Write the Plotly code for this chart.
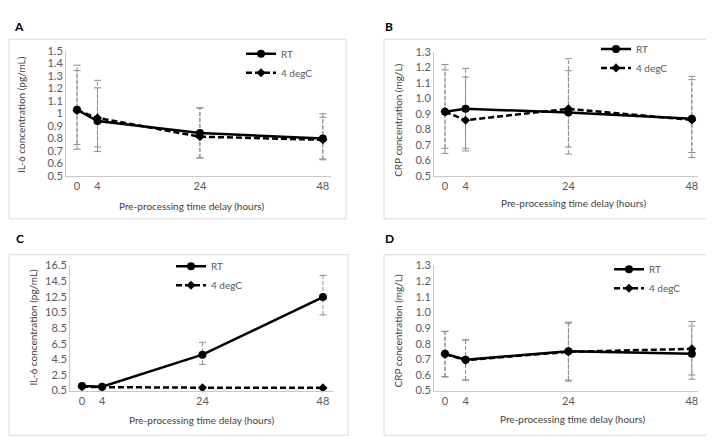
import plotly.graph_objects as go

hours = [0, 4, 24, 48]
tick_hours = [0, 4, 24, 48]

# Panel A: IL-6 (pg/mL)
a_rt = [1.03, 0.94, 0.845, 0.80]
a_rt_hi = [0.313, 0.325, 0.20, 0.198]
a_rt_lo = [0.277, 0.244, 0.20, 0.163]
a_4c = [1.025, 0.965, 0.815, 0.79]
a_4c_hi = [0.361, 0.24, 0.23, 0.18]
a_4c_lo = [0.31, 0.232, 0.17, 0.16]

# Panel B: CRP (mg/L)
b_rt = [0.915, 0.933, 0.91, 0.87]
b_rt_hi = [0.269, 0.261, 0.269, 0.251]
b_rt_lo = [0.236, 0.271, 0.2225, 0.218]
b_4c = [0.915, 0.86, 0.933, 0.862]
b_4c_hi = [0.304, 0.2775, 0.323, 0.28]
b_4c_lo = [0.269, 0.181, 0.291, 0.242]

# Panel C: IL-6 (pg/mL)
c_rt = [1.08, 1.0, 5.09, 12.45]
c_rt_hi = [0.1, 0.1, 1.58, 2.77]
c_rt_lo = [0.1, 0.1, 1.24, 2.28]
c_4c = [1.0, 0.95, 0.87, 0.85]
c_4c_hi = [0.08, 0.08, 0.08, 0.08]
c_4c_lo = [0.08, 0.08, 0.08, 0.08]

# Panel D: CRP (mg/L)
d_rt = [0.736, 0.697, 0.752, 0.736]
d_rt_hi = [0.143, 0.128, 0.186, 0.177]
d_rt_lo = [0.147, 0.129, 0.184, 0.136]
d_4c = [0.733, 0.695, 0.748, 0.767]
d_4c_hi = [0.145, 0.128, 0.182, 0.175]
d_4c_lo = [0.145, 0.128, 0.188, 0.194]

series_names = ["RT", "4 degC"]
xtitle = "Pre-processing time delay (hours)"
ytitle_il6 = "IL-6 concentration (pg/mL)"
ytitle_crp = "CRP concentration (mg/L)"

W, H = 714, 442


def px(x):
    return x / W


def py(y):
    return 1 - y / H


FONT = "Lato"
TICK_COLOR = "#595959"
TITLE_COLOR = "#404040"
ERR_COLOR = "#8c8c8c"
AXIS_COLOR = "#c8c8c8"

panels = [
    dict(letter="A", n=1, data=[(a_rt, a_rt_hi, a_rt_lo), (a_4c, a_4c_hi, a_4c_lo)],
         xdom=(58, 323), ydom=(166, 37), xr=(-2.15, 49.6), yr=(0.5, 1.5),
         tick0=0.5, dtick=0.1, fmt="", ytitle=ytitle_il6,
         letter_pos=(11, 12), xt_pos=(184, 197), yt_pos=(13, 103),
         legend_pos=(233, 25), box=(1, 25, 338, 210)),
    dict(letter="B", n=2, data=[(b_rt, b_rt_hi, b_rt_lo), (b_4c, b_4c_hi, b_4c_lo)],
         xdom=(426, 690), ydom=(166, 38), xr=(-2.14, 49.2), yr=(0.5, 1.3),
         tick0=0.5, dtick=0.1, fmt=".1f", ytitle=ytitle_crp,
         letter_pos=(381, 12), xt_pos=(565, 194), yt_pos=(390, 108),
         legend_pos=(588, 20), box=(376, 25, 711, 210)),
    dict(letter="C", n=3, data=[(c_rt, c_rt_hi, c_rt_lo), (c_4c, c_4c_hi, c_4c_lo)],
         xdom=(62, 325), ydom=(387, 258), xr=(-2.39, 50.0), yr=(0.5, 16.5),
         tick0=0.5, dtick=2, fmt="", ytitle=ytitle_il6,
         letter_pos=(12, 230), xt_pos=(193, 417), yt_pos=(25, 322),
         legend_pos=(163, 244), box=(1, 247, 340, 433)),
    dict(letter="D", n=4, data=[(d_rt, d_rt_hi, d_rt_lo), (d_4c, d_4c_hi, d_4c_lo)],
         xdom=(426, 690), ydom=(387, 258), xr=(-2.14, 49.2), yr=(0.5, 1.3),
         tick0=0.5, dtick=0.1, fmt=".1f", ytitle=ytitle_crp,
         letter_pos=(381, 230), xt_pos=(564, 416), yt_pos=(390, 325),
         legend_pos=(601, 247), box=(376, 247, 705, 433)),
]

fig = go.Figure()
annotations = []
shapes = []
layout_extra = {}

for p in panels:
    n = p["n"]
    xa = "x" if n == 1 else f"x{n}"
    ya = "y" if n == 1 else f"y{n}"
    leg = "legend" if n == 1 else f"legend{n}"

    # error bars (behind lines)
    for (vals, hi, lo) in p["data"]:
        ex, ey = [], []
        for x, v, h, l in zip(hours, vals, hi, lo):
            ex += [x, x, None]
            ey += [v - l, v + h, None]
        fig.add_trace(go.Scatter(x=ex, y=ey, xaxis=xa, yaxis=ya, mode="lines",
                                 line=dict(color=ERR_COLOR, width=1, dash="4px,2px"),
                                 showlegend=False, hoverinfo="skip", cliponaxis=False))
        fig.add_trace(go.Scatter(x=hours + hours,
                                 y=[v + h for v, h in zip(vals, hi)] + [v - l for v, l in zip(vals, lo)],
                                 xaxis=xa, yaxis=ya, mode="markers",
                                 marker=dict(symbol="line-ew", size=5,
                                             line=dict(color=ERR_COLOR, width=1)),
                                 showlegend=False, hoverinfo="skip", cliponaxis=False))

    styles = [
        dict(line=dict(color="black", width=2.5, dash="solid"),
             marker=dict(symbol="circle", size=8, color="black")),
        dict(line=dict(color="black", width=2.5, dash="6px,3px"),
             marker=dict(symbol="diamond", size=7, color="black")),
    ]
    for (vals, hi, lo), name, st in zip(p["data"], series_names, styles):
        fig.add_trace(go.Scatter(x=hours, y=vals, name=name, xaxis=xa, yaxis=ya,
                                 mode="lines+markers", line=st["line"], marker=st["marker"],
                                 legend=leg, cliponaxis=False))

    axis_common = dict(showgrid=False, zeroline=False, showline=True,
                       linecolor=AXIS_COLOR, linewidth=1, ticks="",
                       tickfont=dict(family=FONT, size=11, color=TICK_COLOR))
    layout_extra["xaxis" if n == 1 else f"xaxis{n}"] = dict(
        axis_common, domain=[px(p["xdom"][0]), px(p["xdom"][1])], range=list(p["xr"]),
        anchor=ya, tickmode="array", tickvals=tick_hours,
        ticktext=[str(t) for t in tick_hours])
    layout_extra["yaxis" if n == 1 else f"yaxis{n}"] = dict(
        axis_common, domain=[py(p["ydom"][0]), py(p["ydom"][1])], range=list(p["yr"]),
        anchor=xa, tick0=p["tick0"], dtick=p["dtick"], tickformat=p["fmt"])
    layout_extra[leg] = dict(x=px(p["legend_pos"][0]), y=py(p["legend_pos"][1]),
                             xanchor="left", yanchor="top", bgcolor="rgba(0,0,0,0)",
                             font=dict(family=FONT, size=10, color=TICK_COLOR),
                             tracegroupgap=0, itemwidth=30)

    annotations.append(dict(text=f"<b>{p['letter']}</b>", x=px(p["letter_pos"][0]),
                            y=py(p["letter_pos"][1]), xref="paper", yref="paper",
                            showarrow=False, xanchor="center", yanchor="middle",
                            font=dict(family=FONT, size=12, color="black")))
    annotations.append(dict(text=xtitle, x=px(p["xt_pos"][0]), y=py(p["xt_pos"][1]),
                            xref="paper", yref="paper", showarrow=False,
                            xanchor="center", yanchor="middle",
                            font=dict(family=FONT, size=10, color=TITLE_COLOR)))
    annotations.append(dict(text=p["ytitle"], x=px(p["yt_pos"][0]), y=py(p["yt_pos"][1]),
                            xref="paper", yref="paper", showarrow=False, textangle=-90,
                            xanchor="center", yanchor="middle",
                            font=dict(family=FONT, size=10, color=TITLE_COLOR)))
    bx0, by0, bx1, by1 = p["box"]
    shapes.append(dict(type="rect", xref="paper", yref="paper",
                       x0=px(bx0), x1=px(bx1), y0=py(by1), y1=py(by0),
                       line=dict(color="#d9d9d9", width=1), fillcolor="rgba(0,0,0,0)"))

fig.update_layout(width=W, height=H, margin=dict(l=0, r=0, t=0, b=0),
                  plot_bgcolor="white", paper_bgcolor="white",
                  annotations=annotations, shapes=shapes, **layout_extra)

fig.write_html("out.html")
